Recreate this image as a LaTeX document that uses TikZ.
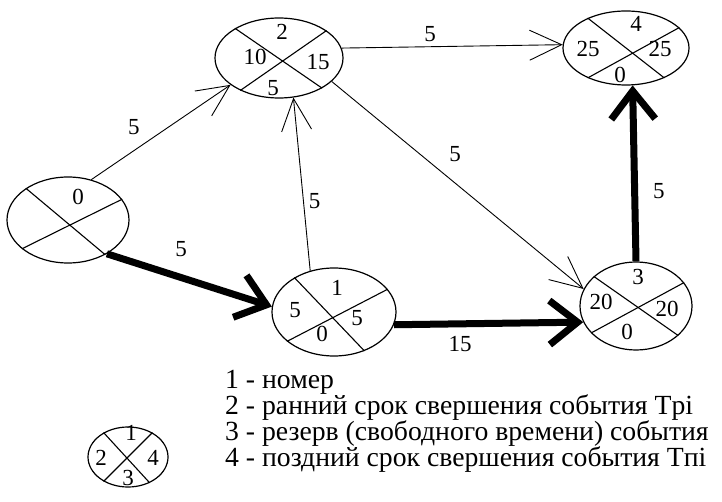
\documentclass[tikz,border=0pt]{standalone}
\usepackage{fontspec}
\setmainfont{Liberation Serif}
\usetikzlibrary{arrows.meta,shapes.geometric,calc}

\begin{document}
\begin{tikzpicture}[
  x=1pt,y=-1pt,
  every node/.style={font=\fontsize{23}{26}\selectfont,inner sep=1pt},
  event/.style={draw,ellipse,line width=1.2pt,inner sep=0pt},
  cross/.style={line width=1.1pt},
  work/.style={-{Straight Barb[length=32pt,width=30pt]},line width=0.9pt},
  crit/.style={-{Straight Barb[length=28pt,width=44pt]},line width=7pt}
]
\useasboundingbox (0,0) rectangle (722,502);

% events of the network
\node[event,minimum width=122pt,minimum height=86pt] (ev0) at (68,220) {};
\draw[cross] (ev0.143) -- (ev0.-43);
\draw[cross] (ev0.21) -- (ev0.212);
\node (ev0n) at (78,197) {0};

\node[event,minimum width=128pt,minimum height=80pt] (ev1) at (279,58) {};
\draw[cross] (ev1.146) -- (ev1.-35);
\draw[cross] (ev1.30) -- (ev1.220);
\node (ev1n) at (282,32) {2};
\node (ev1e) at (255,57) {10};
\node (ev1l) at (318,62) {15};
\node (ev1r) at (273,88) {5};

\node[event,minimum width=124pt,minimum height=88pt] (ev2) at (334,312) {};
\draw[cross] (ev2.139) -- (ev2.-52);
\draw[cross] (ev2.23) -- (ev2.212);
\node (ev2n) at (337,288) {1};
\node (ev2e) at (295,310) {5};
\node (ev2l) at (357,318) {5};
\node (ev2r) at (322,334) {0};

\node[event,minimum width=112pt,minimum height=88pt] (ev3) at (636,306) {};
\draw[cross] (ev3.145) -- (ev3.-35);
\draw[cross] (ev3.26) -- (ev3.211);
\node (ev3n) at (638,277) {3};
\node (ev3e) at (601,302) {20};
\node (ev3l) at (667,309) {20};
\node (ev3r) at (627,332) {0};

\node[event,minimum width=126pt,minimum height=74pt] (ev4) at (626,48) {};
\draw[cross] (ev4.142) -- (ev4.-38);
\draw[cross] (ev4.21) -- (ev4.218);
\node (ev4n) at (636,24) {4};
\node (ev4e) at (588,49) {25};
\node (ev4l) at (660,49) {25};
\node (ev4r) at (620,75) {0};

% works
\draw[work] (ev0.60) -- node[pos=.4,above left=6pt] (w01) {5} (ev1.209);
\draw[crit] (ev0.-41) -- node[pos=.45,above=16pt] (w02) {5} (ev2.175);
\draw[work] (ev2.120) -- node[pos=.4,right=4pt] (w21) {5} (ev1.-70);
\draw[work] (ev1.9) -- node[pos=.4,above=4pt] (w14) {5} (ev4.177);
\draw[work] (ev1.-24) -- node[pos=.45,above=12pt,xshift=10pt] (w13) {5} (ev3.162);
\draw[crit] (ev2.-12) -- node[pos=.35,below=8pt] (w23) {15} (ev3.197);
\draw[crit] (ev3.90) -- node[pos=.4,right=14pt] (w34) {5} (ev4.-80);

% legend
\node[event,minimum width=80pt,minimum height=60pt] (key) at (128,457) {};
\draw[cross] (key.135) -- (key.-50);
\draw[cross] (key.45) -- (key.225);
\node (keyn) at (131,433) {1};
\node (keye) at (101,458) {2};
\node (keyl) at (153,458) {4};
\node (keyr) at (128,478) {3};
\node[anchor=west,align=left,font=\fontsize{27.7}{26}\selectfont] (keytext) at (224,421)
  {1 - номер\\
   2 - ранний срок свершения события Tрi\\
   3 - резерв (свободного времени) события\\
   4 - поздний срок свершения события Tпi};
\end{tikzpicture}
\end{document}
